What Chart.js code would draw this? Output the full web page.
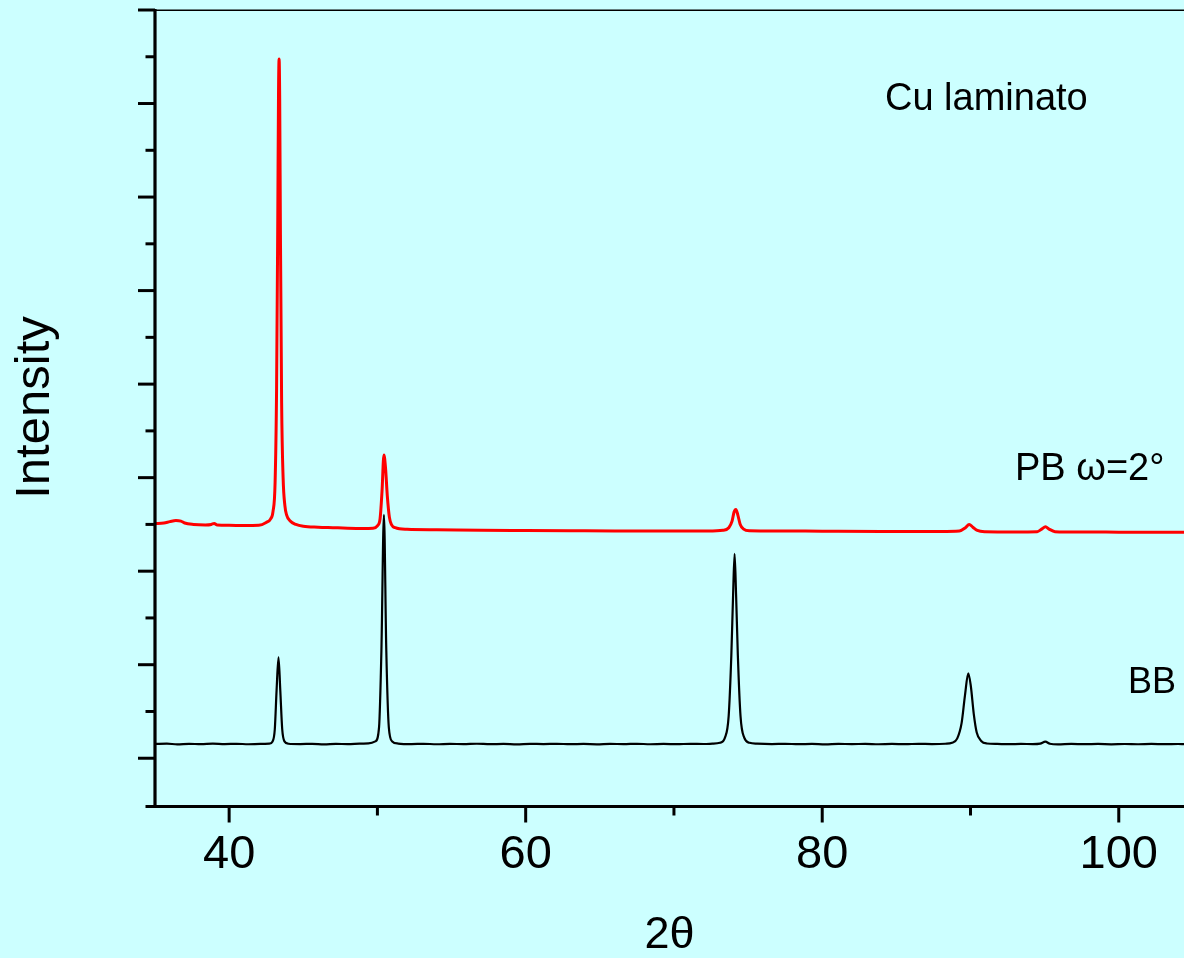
<!DOCTYPE html>
<html>
<head>
<meta charset="utf-8">
<script src="https://cdn.jsdelivr.net/npm/chart.js@4.4.1/dist/chart.umd.min.js"></script>
<style>
  html, body { margin: 0; padding: 0; background: #CCFFFF; }
  #wrap { width: 1184px; height: 958px; }
</style>
</head>
<body>
<div id="wrap"><canvas id="c" width="1184" height="958"></canvas></div>
<script>
// ---- data (2theta in degrees, intensity in arbitrary offset units) ----
const redX = [35.0,35.6,36.0,36.41,36.75,37.0,37.6,38.4,38.8,38.99,39.2,40.0,41.0,42.0,42.5,42.8,42.96,43.1,43.2,43.28,43.33,43.37,43.41,43.46,43.54,43.64,43.76,43.88,44.1,44.5,45.0,46.0,47.0,48.0,49.0,49.7,50.0,50.18,50.31,50.44,50.55,50.67,50.81,50.96,51.2,52.0,54.0,57.0,60.0,63.0,66.0,70.0,72.3,73.3,73.7,73.92,74.06,74.18,74.31,74.47,74.7,75.1,77.0,80.0,84.0,88.0,89.25,89.66,89.91,90.16,90.46,91.0,93.0,94.5,94.8,95.06,95.3,95.7,96.5,100.0,104.4];
const redY = [6.02,6.03,6.06,6.085,6.07,6.03,6.0,5.99,6.0,6.02,5.985,5.98,5.975,5.98,6.04,6.12,6.28,6.9,8.9,12.5,15.2,15.95,15.1,12.2,8.6,7.0,6.4,6.2,6.08,6.0,5.96,5.94,5.93,5.92,5.915,5.92,5.97,6.12,6.7,7.485,7.2,6.6,6.15,5.99,5.93,5.895,5.885,5.875,5.87,5.865,5.86,5.86,5.86,5.875,5.93,6.07,6.27,6.32,6.2,6.0,5.9,5.865,5.86,5.855,5.85,5.85,5.86,5.93,6.0,5.94,5.87,5.845,5.84,5.845,5.9,5.95,5.9,5.845,5.838,5.835,5.835];

const bbX = [35.0,35.8,36.5,37.3,38.1,38.9,39.7,40.5,41.3,42.1,42.7,42.93,43.08,43.2,43.33,43.45,43.58,43.73,44.0,44.8,45.6,46.4,47.2,48.0,48.8,49.4,49.86,50.11,50.27,50.44,50.6,50.77,51.0,51.4,52.3,53.1,54.0,54.9,55.8,56.7,57.6,58.5,59.4,60.3,61.2,62.1,63.0,63.9,64.8,65.7,66.6,67.5,68.4,69.3,70.2,71.1,72.0,72.6,73.1,73.44,73.69,73.87,73.99,74.09,74.19,74.31,74.49,74.74,75.1,75.6,76.6,77.5,78.4,79.3,80.2,81.1,82.0,82.9,83.8,84.7,85.6,86.5,87.4,88.3,88.75,89.1,89.4,89.63,89.85,90.02,90.22,90.42,90.72,91.1,91.8,92.6,93.4,94.2,94.7,95.05,95.35,95.9,96.8,97.7,98.6,99.5,100.4,101.3,102.2,103.1,104.0,104.4];
const bbY = [1.305,1.312,1.298,1.308,1.300,1.311,1.302,1.309,1.299,1.306,1.312,1.36,1.62,2.45,3.159,2.45,1.62,1.36,1.31,1.302,1.309,1.298,1.307,1.301,1.311,1.318,1.36,1.66,3.3,6.202,3.3,1.66,1.36,1.314,1.303,1.309,1.299,1.307,1.301,1.310,1.300,1.306,1.298,1.308,1.302,1.309,1.300,1.305,1.298,1.307,1.301,1.309,1.299,1.306,1.300,1.308,1.304,1.312,1.33,1.44,1.9,3.2,4.5,5.368,4.5,3.2,1.9,1.44,1.33,1.312,1.303,1.309,1.300,1.306,1.298,1.307,1.301,1.308,1.299,1.305,1.300,1.308,1.302,1.310,1.33,1.42,1.75,2.35,2.817,2.55,1.95,1.55,1.37,1.315,1.305,1.300,1.307,1.301,1.312,1.354,1.31,1.298,1.306,1.300,1.305,1.298,1.304,1.299,1.305,1.300,1.304,1.301];

const xTickValues = [40, 50, 60, 70, 80, 90, 100];
const xTickLabels = [40, 60, 80, 100];
const yTickValues = [0,1,2,3,4,5,6,7,8,9,10,11,12,13,14,15,16,17];
const seriesNames = ['PB \u03c9=2\u00b0', 'BB'];
const annotations = [
  { text: 'Cu laminato', x: 84.23, y: 14.86, size: 38 },
  { text: 'PB \u03c9=2\u00b0', x: 93.0, y: 6.94, size: 38 },
  { text: 'BB', x: 100.62, y: 2.395, size: 36 }
];
const xTitle = '2\u03b8';
const yTitle = 'Intensity';

// ---- build ----
const toPts = (xs, ys) => xs.map((x, i) => ({ x: x, y: ys[i] }));
const FONT = '"Liberation Sans", Arial, Helvetica, sans-serif';

const axesPlugin = {
  id: 'axesPlugin',
  beforeDraw(chart) {
    const ctx = chart.ctx;
    ctx.save();
    ctx.fillStyle = '#CCFFFF';
    ctx.fillRect(0, 0, chart.width, chart.height);
    ctx.restore();
  },
  afterDraw(chart) {
    const ctx = chart.ctx;
    const xs = chart.scales.x, ys = chart.scales.y;
    const a = chart.chartArea;
    ctx.save();
    ctx.strokeStyle = '#000';
    ctx.lineCap = 'butt';
    // top border
    ctx.lineWidth = 1.5;
    ctx.beginPath(); ctx.moveTo(a.left, a.top + 0.25); ctx.lineTo(chart.width, a.top + 0.25); ctx.stroke();
    // left axis
    ctx.lineWidth = 3.2;
    ctx.beginPath(); ctx.moveTo(a.left, a.top - 1); ctx.lineTo(a.left, a.bottom + 3); ctx.stroke();
    // bottom axis
    ctx.beginPath(); ctx.moveTo(a.left - 1.5, a.bottom + 1.5); ctx.lineTo(chart.width, a.bottom + 1.5); ctx.stroke();
    // y ticks
    ctx.lineWidth = 3;
    yTickValues.forEach(v => {
      const py = ys.getPixelForValue(v) + (v === 0 ? 1.5 : 0);
      const len = (v % 2 === 1) ? 17 : 9.5;
      ctx.beginPath(); ctx.moveTo(a.left, py); ctx.lineTo(a.left - len, py); ctx.stroke();
    });
    // x ticks
    xTickValues.forEach(v => {
      const px = xs.getPixelForValue(v);
      const len = (v % 20 === 0) ? 16 : 9;
      ctx.beginPath(); ctx.moveTo(px, a.bottom + 1.5); ctx.lineTo(px, a.bottom + 1.5 + len); ctx.stroke();
    });
    // annotations
    ctx.fillStyle = '#000';
    ctx.textBaseline = 'alphabetic';
    ctx.textAlign = 'left';
    annotations.forEach(n => {
      ctx.font = n.size + 'px ' + FONT;
      ctx.fillText(n.text, xs.getPixelForValue(n.x), ys.getPixelForValue(n.y));
    });
    ctx.restore();
  }
};

new Chart(document.getElementById('c'), {
  type: 'line',
  data: {
    datasets: [
      { label: seriesNames[0], data: toPts(redX, redY), borderColor: '#FF0000', borderWidth: 3,
        pointRadius: 0, cubicInterpolationMode: 'monotone', fill: false },
      { label: seriesNames[1], data: toPts(bbX, bbY), borderColor: '#000000', borderWidth: 2.2,
        pointRadius: 0, cubicInterpolationMode: 'monotone', fill: false }
    ]
  },
  options: {
    responsive: false,
    animation: false,
    devicePixelRatio: 1,
    layout: { padding: { left: 0, right: 0, top: 10, bottom: 0 } },
    plugins: { legend: { display: false }, tooltip: { enabled: false } },
    scales: {
      x: {
        type: 'linear', min: 35, max: 104.4,
        grid: { display: false, drawTicks: false },
        border: { display: false },
        afterBuildTicks: s => { s.ticks = xTickValues.map(v => ({ value: v })); },
        ticks: {
          autoSkip: false, maxRotation: 0, minRotation: 0, padding: 21.5,
          color: '#000', font: { family: FONT, size: 47 },
          callback: v => xTickLabels.includes(v) ? String(v) : ''
        },
        title: { display: true, text: xTitle, color: '#000',
          font: { family: FONT, size: 45, lineHeight: 1 }, padding: { top: 0, bottom: 0 } },
        afterFit: s => { s.height = 153; s.paddingLeft = 0; s.paddingRight = 0; }
      },
      y: {
        type: 'linear', min: 0, max: 17,
        grid: { display: false, drawTicks: false },
        border: { display: false },
        afterBuildTicks: s => { s.ticks = yTickValues.map(v => ({ value: v })); },
        ticks: { autoSkip: false, callback: () => '', padding: 0 },
        title: { display: true, text: yTitle, color: '#000',
          font: { family: FONT, size: 49, lineHeight: 1 }, padding: { top: 10.5, bottom: 0 } },
        afterFit: s => { s.width = 155; s.paddingTop = 0; s.paddingBottom = 0; }
      }
    }
  },
  plugins: [axesPlugin]
});
</script>
</body>
</html>
